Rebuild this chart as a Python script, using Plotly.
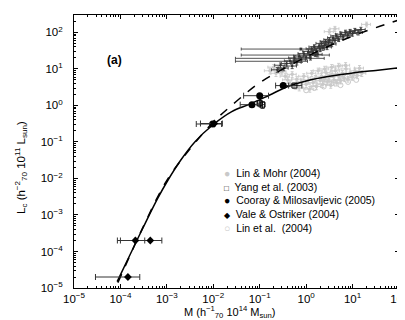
import plotly.graph_objects as go

FONT = "Liberation Sans, Arial, Helvetica, sans-serif"

# ---- model curves ----
solid_M = [8.5e-5, 1.6e-4, 3.2e-4, 6.3e-4, 1.0e-3, 2.0e-3, 4.0e-3, 1.0e-2, 2.5e-2, 6.3e-2, 0.16, 0.4, 1.0, 3.16, 10.0, 31.6, 100.0]
solid_L = [1.5e-5, 8.0e-5, 5.0e-4, 2.8e-3, 8.0e-3, 3.2e-2, 0.10, 0.30, 0.68, 1.10, 1.90, 3.30, 4.70, 6.30, 7.70, 9.10, 10.7]
dash_M = [8.8e-5, 3.2e-4, 1.0e-3, 3.2e-3, 1.0e-2, 3.2e-2, 0.1, 0.32, 1.0, 3.16, 10.0, 31.6, 100.0]
dash_L = [1.4e-5, 5.2e-4, 8.9e-3, 6.6e-2, 0.35, 1.32, 4.2, 10.0, 21.4, 42.7, 79.4, 135.0, 219.0]

# ---- axis ticks ----
tick_vals = [1e-5, 1e-4, 1e-3, 1e-2, 1e-1, 1e0, 1e1, 1e2]
tick_text = ["10<sup>−5</sup>", "10<sup>−4</sup>", "10<sup>−3</sup>", "10<sup>−2</sup>",
             "10<sup>−1</sup>", "10<sup>0</sup>", "10<sup>1</sup>", "10<sup>2</sup>"]

# ---- Lin & Mohr (2004), light grey ----
lm_M = [0.166, 0.20, 0.224, 0.263, 0.30, 0.355, 0.40, 0.45, 0.50, 0.56, 0.63, 0.71, 0.79, 0.89, 1.0, 1.12, 1.20,
        1.32, 1.41, 1.58, 1.66, 1.82, 2.0, 2.14, 2.29, 2.51, 2.69, 2.88, 3.16, 3.39, 3.63, 3.98, 4.27, 4.57, 5.01,
        5.5, 6.03, 6.61, 7.24, 7.94, 8.91, 10.0, 11.2, 12.6, 14.1, 15.8, 2.51, 3.55, 5.01, 7.08, 20.0, 4.17, 3.16]
lm_L = [8.9, 11.2, 7.6, 10.0, 8.3, 6.3, 5.0, 4.0, 7.1, 3.55, 5.25, 3.0, 4.5, 6.3, 3.8, 5.0, 2.8,
        7.6, 4.2, 5.6, 3.3, 8.9, 4.8, 6.3, 3.8, 5.25, 7.9, 4.5, 6.0, 3.55, 7.1, 5.0, 8.9, 4.2, 6.3,
        4.8, 7.6, 5.6, 10.0, 5.25, 7.1, 6.0, 8.9, 6.6, 10.5, 7.6, 10.0, 11.2, 12.0, 12.6, 166.0, 126.0, 105.0]
lm_xerr = [0.04, 0.05, 0.05, 0.06, 0.07, 0.08, 0.09, 0.10, 0.11, 0.12, 0.14, 0.16, 0.18, 0.20, 0.22, 0.25, 0.26,
           0.29, 0.31, 0.35, 0.37, 0.40, 0.44, 0.47, 0.50, 0.55, 0.59, 0.63, 0.70, 0.75, 0.80, 0.88, 0.94, 1.0, 1.1,
           1.2, 1.3, 1.45, 1.6, 1.75, 1.95, 2.2, 2.45, 2.8, 3.1, 3.5, 0.55, 0.78, 1.1, 1.55, 4.4, 0.92, 0.70]
lm_yerr = [1.6, 2.0, 1.4, 1.8, 1.5, 1.1, 0.9, 0.7, 1.3, 0.6, 0.9, 0.5, 0.8, 1.1, 0.7, 0.9, 0.5,
           1.4, 0.8, 1.0, 0.6, 1.6, 0.9, 1.1, 0.7, 0.9, 1.4, 0.8, 1.1, 0.6, 1.3, 0.9, 1.6, 0.8, 1.1,
           0.9, 1.4, 1.0, 1.8, 0.9, 1.3, 1.1, 1.6, 1.2, 1.9, 1.4, 1.8, 2.0, 2.2, 2.3, 25.0, 20.0, 16.0]

# ---- Lin et al. (2004), light grey open circles ----
li_M = [0.6, 1.0, 1.5, 2.4, 3.5, 5.5, 8.0, 12.0]
li_L = [3.2, 2.6, 3.0, 3.3, 4.0, 3.6, 4.4, 5.0]

# ---- dark cloud (points along the dashed curve) ----
dk_M = [0.24, 0.28, 0.33, 0.38, 0.45, 0.50, 0.56, 0.63, 0.71, 0.79, 0.89, 1.0, 1.12, 1.20, 1.32, 1.41, 1.51, 1.66,
        1.78, 1.91, 2.0, 2.14, 2.29, 2.51, 2.63, 2.82, 3.02, 3.16, 3.55, 3.80, 4.17, 4.47, 5.01, 5.62, 6.31, 7.08,
        7.94, 8.91, 10.0, 11.2, 13.2, 15.1, 0.77, 1.6, 1.24, 0.55]
dk_L = [9.5, 12.6, 10.5, 14.1, 16.6, 12.0, 20.0, 15.1, 22.4, 17.8, 26.3, 20.9, 30.2, 24.0, 35.5, 28.2, 39.8, 31.6,
        25.1, 41.7, 35.5, 50.1, 38.0, 44.7, 56.2, 39.8, 52.5, 63.1, 47.9, 70.8, 60.3, 79.4, 66.1, 89.1, 75.9, 100.0,
        83.2, 105.0, 93.3, 112.0, 100.0, 120.0, 35.0, 24.0, 19.5, 16.2]
dk_xerr = [0.06, 0.07, 0.08, 0.09, 0.11, 0.12, 0.14, 0.15, 0.17, 0.19, 0.22, 0.24, 0.27, 0.29, 0.32, 0.34, 0.36, 0.40,
           0.43, 0.46, 0.48, 0.51, 0.55, 0.60, 0.63, 0.68, 0.72, 0.76, 0.85, 0.91, 1.0, 1.07, 1.2, 1.35, 1.5, 1.7,
           1.9, 2.1, 2.4, 2.7, 3.2, 3.6, 0.73, 1.56, 1.21, 0.52]
dk_yerr = [1.4, 1.9, 1.6, 2.1, 2.5, 1.8, 3.0, 2.3, 3.4, 2.7, 3.9, 3.1, 4.5, 3.6, 5.3, 4.2, 6.0, 4.7,
           3.8, 6.3, 5.3, 7.5, 5.7, 6.7, 8.4, 6.0, 7.9, 9.5, 7.2, 10.6, 9.0, 11.9, 9.9, 13.4, 11.4, 15.0,
           12.5, 15.8, 14.0, 16.8, 15.0, 18.0, 2.0, 2.0, 2.0, 2.0]

# ---- Yang et al. (2003), open squares ----
ya_M = [0.56, 0.10, 0.115]
ya_L = [3.5, 1.15, 1.05]
ya_xerr = [0.25, 0.012, 0.012]
ya_yerr = [0.0, 0.2, 0.22]

# ---- Cooray & Milosavljevic (2005), filled circles ----
co_M = [0.0097, 0.068, 0.10, 0.32]
co_L = [0.31, 1.05, 1.85, 3.5]
co_xerr = [0.0054, 0.03, 0.055, 0.1]

# ---- Vale & Ostriker (2004), diamonds ----
vo_M = [1.45e-4, 2.1e-4, 4.4e-4, 0.0105]
vo_L = [2.0e-5, 2.0e-4, 2.0e-4, 0.32]
vo_xerr = [1.16e-4, 1.24e-4, 3.4e-4, 0.0052]

LIGHT = "#c9c9c9"
DARK = "#404040"

fig = go.Figure()

fig.add_trace(go.Scatter(
    x=lm_M, y=lm_L, mode="markers",
    marker=dict(symbol="circle", size=3.5, color=LIGHT),
    error_x=dict(type="data", array=lm_xerr, color=LIGHT, thickness=0.9, width=1.5),
    error_y=dict(type="data", array=lm_yerr, color=LIGHT, thickness=0.9, width=1.5),
    showlegend=False))

fig.add_trace(go.Scatter(
    x=li_M, y=li_L, mode="markers",
    marker=dict(symbol="circle-open", size=5, color=LIGHT, line=dict(width=1)),
    showlegend=False))

fig.add_trace(go.Scatter(
    x=dk_M, y=dk_L, mode="markers",
    marker=dict(symbol="circle", size=2.5, color="#333333"),
    error_x=dict(type="data", array=dk_xerr, color=DARK, thickness=0.9, width=1.5),
    error_y=dict(type="data", array=dk_yerr, color=DARK, thickness=0.9, width=1.5),
    showlegend=False))

fig.add_trace(go.Scatter(
    x=dash_M, y=dash_L, mode="lines", line=dict(color="black", width=1.5, dash="dash", shape="spline"),
    showlegend=False))
fig.add_trace(go.Scatter(
    x=solid_M, y=solid_L, mode="lines", line=dict(color="black", width=1.5, shape="spline"),
    showlegend=False))

fig.add_trace(go.Scatter(
    x=ya_M, y=ya_L, mode="markers",
    marker=dict(symbol="square-open", size=5, color="black", line=dict(width=1)),
    error_x=dict(type="data", array=ya_xerr, color="#333", thickness=1, width=3),
    error_y=dict(type="data", array=ya_yerr, color="#333", thickness=1, width=2),
    showlegend=False))

fig.add_trace(go.Scatter(
    x=co_M, y=co_L, mode="markers",
    marker=dict(symbol="circle", size=7, color="black"),
    error_x=dict(type="data", array=co_xerr, color="#333", thickness=1, width=3),
    showlegend=False))

fig.add_trace(go.Scatter(
    x=vo_M, y=vo_L, mode="markers",
    marker=dict(symbol="diamond", size=6, color="black"),
    error_x=dict(type="data", array=vo_xerr, color="#333", thickness=1, width=3),
    showlegend=False))

axis_common = dict(
    type="log", showgrid=False, zeroline=False, showline=True, linecolor="black", linewidth=1,
    mirror="ticks", ticks="inside", ticklen=4, tickcolor="black", automargin=False,
    tickmode="array", tickvals=tick_vals, ticktext=tick_text, ticklabeloverflow="allow",
    tickfont=dict(family=FONT, size=11.5, color="black"),
    minor=dict(ticks="inside", ticklen=2, tickcolor="black", dtick="D1", showgrid=False),
)

fig.update_xaxes(range=[-5, 2.0001], ticklabelstandoff=0, **axis_common)
fig.update_yaxes(range=[-5, 2.477], ticklabelstandoff=8, **axis_common)

legend_txt = (
    f"<span style='color:{LIGHT}'>●</span>  Lin & Mohr (2004)<br>"
    "<span style='font-size:8px'>□</span>  Yang et al. (2003)<br>"
    "●  Cooray & Milosavljevic (2005)<br>"
    "<span style='font-size:8px'>◆</span>  Vale & Ostriker (2004)<br>"
    f"<span style='color:{LIGHT}'>○</span>  Lin et al.  (2004)"
)

PW = 405 - 66 - 14

fig.update_layout(
    template="none",
    width=405, height=320,
    margin=dict(l=66, r=14, t=7, b=40, autoexpand=False),
    paper_bgcolor="white", plot_bgcolor="white",
    font=dict(family=FONT, size=11, color="black"),
    annotations=[
        dict(text="<b>(a)</b>", xref="paper", yref="paper", x=(97 - 66) / PW, y=(280 - 43) / 273,
             showarrow=False, font=dict(family=FONT, size=12, color="black")),
        dict(text=legend_txt, xref="paper", yref="paper", x=(214 - 66) / PW, y=(280 - 157) / 273,
             xanchor="left", yanchor="top", align="left", showarrow=False,
             font=dict(family=FONT, size=10.5, color="black")),
        dict(text="M (h<sup>−1</sup><sub>70</sub> 10<sup>14</sup> M<sub>sun</sub>)", xref="paper", yref="paper",
             x=0.48, y=(280 - 304) / 273, xanchor="center", yanchor="middle", showarrow=False,
             font=dict(family=FONT, size=11, color="black")),
        dict(text="L<sub>c</sub> (h<sup>−2</sup><sub>70</sub> 10<sup>11</sup> L<sub>sun</sub>)", xref="paper",
             yref="paper", x=(13 - 66) / PW, y=(280 - 160) / 273, xanchor="center", yanchor="middle",
             textangle=-90, showarrow=False, font=dict(family=FONT, size=11.5, color="black")),
    ],
)

fig.write_html("out.html")
